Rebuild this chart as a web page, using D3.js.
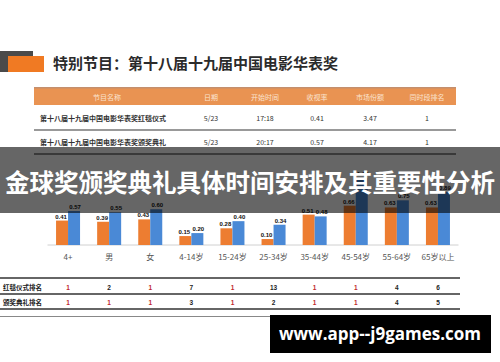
<!DOCTYPE html>
<html>
<head>
<meta charset="utf-8">
<script src="https://cdn.jsdelivr.net/npm/d3@7/dist/d3.min.js"></script>
<style>
  body { margin: 0; background: #fff; }
  svg { display: block; font-family: "Noto Sans CJK SC", "Noto Sans", sans-serif; }
</style>
</head>
<body>
<div id="chart"></div>
<script>
"use strict";

// ---- data ----
var pageTitle = "特别节目：第十八届十九届中国电影华表奖";
var overlayTitle = "金球奖颁奖典礼具体时间安排及其重要性分析";
var tableHeader = ["节目名称", "日期", "开始时间", "收视率", "市场份额", "同时段排名"];
var tableRows = [
    ["第十八届十九届中国电影华表奖红毯仪式", "5/23", "17:18", "0.41", "3.47", "1"],
    ["第十八届十九届中国电影华表奖颁奖典礼", "5/23", "20:17", "0.57", "4.17", "1"]
];
var categories = ["4+", "男", "女", "4-14岁", "15-24岁", "25-34岁", "35-44岁", "45-54岁", "55-64岁", "65岁以上"];
var redCarpet = [0.41, 0.39, 0.43, 0.15, 0.28, 0.10, 0.51, 0.66, 0.63, 0.63];
var ceremony  = [0.57, 0.55, 0.60, 0.20, 0.40, 0.34, 0.48, 1.12, 0.75, 0.89];
var rankLabels = ["红毯仪式排名", "颁奖典礼排名"];
var redCarpetRank = [1, 2, 1, 7, 1, 13, 1, 1, 4, 6];
var ceremonyRank  = [1, 1, 1, 3, 1, 2, 1, 1, 4, 5];
var watermark = "www.app--j9games.com";

var width = 500, height = 362;
var orange = "#ed7d31", blue = "#4a89d6";

var svg = d3.select("#chart").append("svg")
    .attr("width", width)
    .attr("height", height);

// ---- heading block ----
svg.append("rect").attr("x", 0).attr("y", 51).attr("width", 33).attr("height", 21).attr("fill", "#4a4a4a");
svg.append("rect").attr("x", 8).attr("y", 56).attr("width", 36).attr("height", 16).attr("fill", "#f07a23");
svg.append("text")
    .attr("x", 53).attr("y", 69)
    .attr("font-size", 15).attr("font-weight", "bold").attr("fill", "#2b2b2b")
    .text(pageTitle);
svg.append("line")
    .attr("x1", 34).attr("x2", 456).attr("y1", 88).attr("y2", 88)
    .attr("stroke", "#b06a3c").attr("stroke-width", 1.5);

// ---- top table ----
var colX = [107, 211, 265, 317, 370, 427];
svg.append("rect").attr("x", 34).attr("y", 88.5).attr("width", 422).attr("height", 16.5).attr("fill", "#e99352");
svg.append("g").selectAll("text")
    .data(tableHeader)
    .enter().append("text")
    .attr("x", function (d, i) { return colX[i]; })
    .attr("y", 99.5)
    .attr("text-anchor", "middle")
    .attr("font-size", 7).attr("fill", "#fbe3cf")
    .text(function (d) { return d; });

var rowY = [118, 142];
tableRows.forEach(function (row, r) {
    svg.append("g").selectAll("text")
        .data(row)
        .enter().append("text")
        .attr("x", function (d, i) { return i === 0 ? 40 : colX[i]; })
        .attr("y", rowY[r] + 2.5)
        .attr("text-anchor", function (d, i) { return i === 0 ? "start" : "middle"; })
        .attr("font-size", 7)
        .attr("font-weight", function (d, i) { return i === 0 ? "bold" : "normal"; })
        .attr("fill", "#333")
        .text(function (d) { return d; });
});
svg.append("line").attr("x1", 34).attr("x2", 456).attr("y1", 130).attr("y2", 130)
    .attr("stroke", "#777").attr("stroke-width", 1.5);
svg.append("line").attr("x1", 34).attr("x2", 456).attr("y1", 154).attr("y2", 154)
    .attr("stroke", "#222").attr("stroke-width", 1.2);

// ---- bar chart ----
var x = d3.scaleBand().domain(categories).range([47.5, 458.5]);
var xs = d3.scaleBand().domain(["a", "b"]).range([-12, 12]);
var y = d3.scaleLinear().domain([0, 1.2]).range([245, 173.5]);

svg.append("line")
    .attr("x1", x.range()[0]).attr("x2", x.range()[1])
    .attr("y1", y(0)).attr("y2", y(0))
    .attr("stroke", "#d0d0d0").attr("stroke-width", 1);

var series = [
    { key: "a", values: redCarpet, color: orange },
    { key: "b", values: ceremony, color: blue }
];

series.forEach(function (s) {
    var g = svg.append("g");
    g.selectAll("rect")
        .data(categories)
        .enter().append("rect")
        .attr("x", function (d) { return x(d) + x.bandwidth() / 2 + xs(s.key); })
        .attr("y", function (d, i) { return y(s.values[i]); })
        .attr("width", xs.bandwidth())
        .attr("height", function (d, i) { return y(0) - y(s.values[i]); })
        .attr("fill", s.color);
    g.selectAll("text")
        .data(categories)
        .enter().append("text")
        .attr("x", function (d) { return x(d) + x.bandwidth() / 2 + xs(s.key) + xs.bandwidth() / 2 - (s.key === "a" ? 1 : -1); })
        .attr("y", function (d, i) { return y(s.values[i]) - 2; })
        .attr("text-anchor", "middle")
        .attr("font-size", 6).attr("font-weight", "bold")
        .attr("font-family", "Liberation Sans, Arial, sans-serif")
        .attr("fill", "#111")
        .text(function (d, i) { return s.values[i].toFixed(2); });
});

var xAxis = svg.append("g")
    .attr("transform", "translate(0," + y(0) + ")")
    .call(d3.axisBottom(x).tickSize(0).tickPadding(9));
xAxis.select(".domain").remove();
xAxis.selectAll("text")
    .attr("font-size", 8).attr("fill", "#555")
    .attr("font-family", "\"Noto Sans CJK SC\", sans-serif");

// ---- rank table ----
var rankY = [287, 302];
[redCarpetRank, ceremonyRank].forEach(function (ranks, r) {
    svg.append("text")
        .attr("x", 3).attr("y", rankY[r] + 2.5)
        .attr("font-size", 6.5).attr("font-weight", "bold").attr("fill", "#222")
        .text(rankLabels[r]);
    svg.append("g").selectAll("text")
        .data(ranks)
        .enter().append("text")
        .attr("x", function (d, i) { return x(categories[i]) + x.bandwidth() / 2; })
        .attr("y", rankY[r] + 2.5)
        .attr("text-anchor", "middle")
        .attr("font-size", 6.5).attr("font-weight", "bold")
        .attr("font-family", "Liberation Sans, Arial, sans-serif")
        .attr("fill", function (d) { return d === 1 ? "#c0282d" : "#222"; })
        .text(function (d) { return d; });
});
[278, 294, 309].forEach(function (ly) {
    svg.append("line").attr("x1", 0).attr("x2", 460).attr("y1", ly).attr("y2", ly)
        .attr("stroke", "#333").attr("stroke-width", 1.6);
});
svg.append("line").attr("x1", 0).attr("x2", 462).attr("y1", 316.5).attr("y2", 316.5)
    .attr("stroke", "#888").attr("stroke-width", 1.2);

// ---- overlay band ----
svg.append("rect").attr("x", 0).attr("y", 147).attr("width", width).attr("height", 66)
    .attr("fill", "#000").attr("opacity", 0.6);
svg.append("text")
    .attr("x", width / 2).attr("y", 192)
    .attr("text-anchor", "middle")
    .attr("font-size", 24.5).attr("font-weight", "bold").attr("fill", "#fff")
    .text(overlayTitle);

// ---- watermark ----
svg.append("rect").attr("x", 270).attr("y", 315).attr("width", 221).attr("height", 38).attr("fill", "#000");
svg.append("text")
    .attr("x", 380).attr("y", 340)
    .attr("text-anchor", "middle")
    .attr("font-size", 17).attr("font-weight", "bold").attr("fill", "#fff")
    .attr("font-family", "\"Open Sans\", \"DejaVu Sans\", sans-serif")
    .text(watermark);
</script>
</body>
</html>
